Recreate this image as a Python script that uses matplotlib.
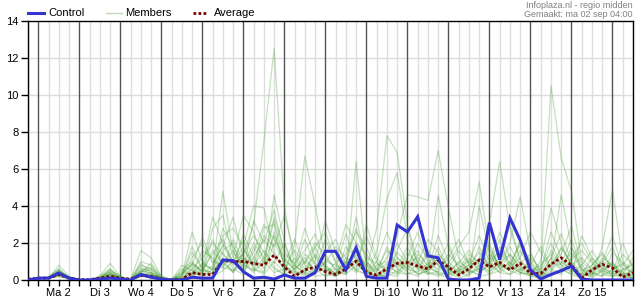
import matplotlib
matplotlib.use('Agg')
import matplotlib.pyplot as plt
from matplotlib.lines import Line2D

plt.rcParams['font.family'] = ['Liberation Sans', 'DejaVu Sans']

day_labels = ['Ma 2', 'Di 3', 'Wo 4', 'Do 5', 'Vr 6', 'Za 7', 'Zo 8', 'Ma 9',
              'Di 10', 'Wo 11', 'Do 12', 'Vr 13', 'Za 14', 'Zo 15']
y_ticks = [0, 2, 4, 6, 8, 10, 12, 14]

control = [0.0, 0.1, 0.1, 0.38, 0.1,
           0.0, 0.0, 0.05, 0.1, 0.05,
           0.0, 0.3, 0.15, 0.05, 0.0,
           0.0, 0.15, 0.1, 0.1, 1.08,
           1.05, 0.45, 0.1, 0.15, 0.05,
           0.27, 0.1, 0.1, 0.4, 1.55,
           1.55, 0.55, 1.73, 0.2, 0.1,
           0.1, 2.97, 2.6, 3.42, 1.3,
           1.2, 0.05, 0.0, 0.0, 0.1,
           3.1, 1.1, 3.35, 2.15, 0.55,
           0.05, 0.3, 0.5, 0.75, 0.05,
           0.0, 0.0, 0.0, 0.0, 0.0]

average = [0.05, 0.1, 0.1, 0.3, 0.1,
           0.02, 0.02, 0.1, 0.2, 0.1,
           0.05, 0.25, 0.2, 0.05, 0.02,
           0.02, 0.4, 0.3, 0.3, 1.05,
           1.0, 1.0, 0.9, 0.8, 1.35,
           0.7, 0.2, 0.55, 0.7, 0.45,
           0.3, 0.6, 1.02, 0.4, 0.27,
           0.6, 0.9, 0.95, 0.75, 0.6,
           1.05, 0.7, 0.27, 0.6, 1.08,
           0.7, 0.95, 0.55, 0.9, 0.35,
           0.35, 0.85, 1.2, 0.8, 0.1,
           0.55, 0.85, 0.65, 0.15, 0.4]

m01 = [0, 0.1, 0.1, 0.8, 0.2, 0, 0, 0.2, 0.9, 0.2, 0, 0.5, 0.3, 0.1, 0,
       0.2, 2.6, 1.0, 0.5, 4.8, 1.5, 0.8, 0.5, 1.2, 0.6, 0.3, 0.2, 1.0, 0.6, 0.2,
       0.4, 0.3, 6.4, 1.0, 0.3, 0.2, 0.5, 1.5, 0.8, 0.4, 0.3, 0.1, 0.5, 0.8, 1.5,
       0.8, 2.2, 0.7, 0.4, 0.3, 0.1, 0.8, 1.7, 0.9, 0.2, 0.3, 0.6, 1.0, 0.2, 0.1]
m02 = [0, 0.1, 0.2, 0.6, 0.1, 0, 0, 0.1, 0.4, 0.1, 0, 1.6, 1.2, 0.2, 0,
       0.1, 0.4, 0.3, 0.8, 1.9, 0.9, 1.4, 3.0, 7.5, 12.5, 4.0, 0.8, 0.4, 1.3, 0.7,
       0.2, 0.5, 1.1, 0.4, 0.2, 0.6, 2.0, 1.0, 0.3, 0.5, 1.2, 0.4, 0.1, 0.3, 0.8,
       0.5, 0.9, 1.4, 0.6, 0.2, 0.1, 0.3, 0.5, 1.8, 0.6, 0.2, 1.2, 0.8, 0.3, 0.1]
m03 = [0, 0.1, 0.1, 0.4, 0.1, 0, 0, 0.1, 0.3, 0.1, 0, 1.0, 0.8, 0.1, 0,
       0.3, 1.5, 0.6, 0.4, 2.4, 2.8, 1.8, 4.0, 3.9, 1.5, 0.5, 1.9, 6.7, 4.0, 1.2,
       0.6, 0.3, 0.8, 0.5, 0.1, 0.3, 0.2, 0.9, 1.6, 0.7, 0.4, 0.2, 0.6, 1.1, 0.5,
       1.8, 0.6, 0.3, 0.9, 1.4, 0.4, 0.2, 0.6, 0.3, 0.1, 0.8, 1.5, 0.6, 0.2, 0.3]
m04 = [0, 0.1, 0.1, 0.3, 0.1, 0, 0, 0.1, 0.5, 0.2, 0, 0.8, 0.6, 0.1, 0,
       0, 0.6, 1.2, 2.0, 1.4, 0.8, 2.5, 1.2, 0.6, 4.6, 2.1, 0.4, 0.3, 1.8, 2.6,
       1.0, 3.0, 2.0, 0.6, 2.8, 7.8, 6.9, 3.0, 1.0, 0.4, 0.2, 0.5, 0.9, 1.6, 0.8,
       0.3, 0.5, 1.0, 0.4, 0.2, 0.3, 1.2, 2.5, 1.0, 0.4, 0.1, 0.5, 0.9, 0.4, 0.2]
m05 = [0, 0.05, 0.1, 0.5, 0.1, 0, 0, 0.2, 0.6, 0.1, 0, 0.4, 0.9, 0.2, 0,
       0.5, 1.0, 0.4, 2.8, 3.5, 1.2, 3.5, 2.6, 1.0, 3.2, 1.1, 0.6, 2.2, 0.8, 0.4,
       0.9, 1.4, 2.6, 1.8, 0.5, 1.2, 2.4, 4.6, 4.5, 4.3, 7.0, 3.9, 1.2, 0.4, 0.6,
       1.0, 0.4, 0.8, 1.9, 0.7, 0.2, 0.5, 0.3, 1.1, 1.6, 0.9, 0.3, 0.2, 0.6, 0.4]
m06 = [0, 0.1, 0.1, 0.3, 0.1, 0, 0, 0.1, 0.2, 0.1, 0, 0.3, 0.4, 0.1, 0,
       0.1, 0.3, 1.6, 1.2, 0.6, 2.2, 1.0, 0.5, 2.4, 1.8, 3.5, 1.4, 0.6, 0.3, 1.5,
       2.2, 0.8, 0.4, 1.2, 0.9, 0.5, 1.0, 0.6, 2.0, 1.1, 0.4, 0.9, 1.8, 2.6, 5.3,
       1.6, 0.8, 0.5, 0.3, 1.2, 0.6, 2.0, 0.8, 0.4, 0.2, 0.4, 0.2, 1.5, 0.9, 0.3]
m07 = [0, 0.1, 0.1, 0.4, 0.1, 0, 0, 0.1, 0.3, 0.1, 0, 0.6, 0.5, 0.1, 0,
       0.4, 0.8, 2.3, 1.0, 0.8, 1.6, 0.6, 3.2, 2.0, 3.8, 1.4, 0.9, 1.6, 2.5, 0.8,
       0.3, 1.8, 1.2, 0.5, 0.2, 0.8, 0.4, 0.3, 0.9, 2.2, 1.5, 0.6, 0.3, 0.8, 1.0,
       3.0, 6.4, 2.8, 1.0, 0.5, 0.8, 1.4, 0.6, 0.3, 2.4, 1.2, 0.5, 0.3, 0.1, 0.2]
m08 = [0, 0.1, 0.1, 0.5, 0.2, 0, 0, 0.2, 0.4, 0.1, 0, 0.2, 0.3, 0.1, 0,
       0.8, 0.5, 0.2, 0.6, 1.0, 0.4, 1.2, 0.8, 2.8, 3.0, 0.7, 0.3, 0.5, 1.0, 3.2,
       1.5, 0.6, 0.9, 2.4, 1.0, 0.4, 1.2, 0.8, 0.3, 0.5, 0.9, 2.0, 0.6, 0.4, 1.8,
       0.6, 1.2, 3.0, 1.1, 0.5, 0.6, 10.5, 6.6, 4.8, 1.0, 0.5, 0.8, 0.4, 0.2, 0.6]
m09 = [0, 0.1, 0.1, 0.2, 0.1, 0, 0, 0.1, 0.2, 0.1, 0, 0.2, 0.2, 0, 0,
       0, 0.2, 0.6, 0.3, 1.5, 0.6, 0.3, 1.8, 0.9, 2.4, 0.9, 2.2, 0.8, 0.4, 0.6,
       0.2, 0.8, 3.4, 0.9, 0.4, 1.8, 0.6, 0.3, 0.5, 1.4, 0.8, 0.3, 0.6, 1.4, 0.9,
       0.4, 1.0, 2.0, 4.5, 1.5, 0.4, 0.8, 1.4, 2.9, 0.8, 0.3, 1.8, 4.9, 1.0, 0.5]
m10 = [0, 0.1, 0.1, 0.3, 0.1, 0, 0, 0.1, 0.3, 0.1, 0, 0.5, 0.7, 0.1, 0,
       0, 0.8, 0.4, 0.2, 0.5, 1.0, 2.2, 0.6, 0.3, 1.0, 0.4, 0.8, 2.8, 1.2, 0.5,
       0.6, 2.5, 1.0, 0.4, 1.5, 4.4, 5.8, 2.2, 0.9, 0.6, 4.6, 1.8, 0.5, 0.3, 0.6,
       1.2, 0.8, 0.6, 2.2, 0.9, 0.3, 0.9, 4.6, 1.8, 0.5, 0.8, 1.4, 0.6, 0.9, 0.3]
m11 = [0, 0.1, 0.1, 0.6, 0.1, 0, 0, 0.1, 0.4, 0.1, 0, 0.3, 0.2, 0.1, 0,
       0.2, 1.8, 0.6, 3.4, 2.0, 1.0, 0.5, 1.5, 3.0, 2.2, 1.2, 0.5, 0.2, 0.5, 1.0,
       0.8, 0.4, 1.4, 0.8, 0.3, 0.2, 1.5, 0.9, 1.2, 0.6, 2.4, 1.0, 0.4, 0.2, 4.0,
       1.4, 0.6, 0.9, 0.4, 0.3, 1.0, 3.9, 2.0, 0.7, 0.3, 0.2, 0.5, 0.3, 1.4, 0.8]
m12 = [0, 0.1, 0.1, 0.2, 0.05, 0, 0, 0.1, 0.2, 0.1, 0, 0.2, 0.3, 0.1, 0,
       0.6, 0.2, 0.4, 1.6, 0.9, 0.5, 1.4, 2.4, 1.5, 0.7, 0.3, 0.6, 1.0, 2.0, 1.4,
       0.5, 1.0, 0.6, 0.3, 0.8, 1.0, 0.7, 1.8, 0.6, 0.3, 0.5, 1.2, 2.2, 0.8, 0.4,
       0.9, 1.6, 0.7, 1.2, 2.6, 1.5, 0.6, 0.4, 1.2, 2.0, 1.0, 0.4, 0.2, 0.3, 1.2]
m13 = [0, 0.1, 0.1, 0.4, 0.1, 0, 0, 0.1, 0.6, 0.2, 0, 0.9, 0.4, 0.1, 0,
       0.1, 0.4, 0.9, 0.6, 2.8, 1.8, 0.9, 0.4, 1.0, 0.4, 0.6, 1.2, 0.4, 0.2, 0.3,
       0.2, 0.6, 2.0, 1.4, 0.6, 0.3, 0.9, 0.4, 0.2, 0.8, 1.2, 0.5, 0.3, 0.6, 0.2,
       0.3, 0.8, 1.8, 0.8, 0.4, 0.2, 1.2, 0.5, 0.8, 1.2, 0.6, 0.9, 1.8, 0.4, 0.1]
m14 = [0, 0.1, 0.1, 0.3, 0.1, 0, 0, 0.1, 0.2, 0.1, 0, 0.4, 0.2, 0.1, 0,
       0.3, 0.9, 0.5, 0.4, 1.2, 0.4, 1.6, 1.0, 0.4, 2.6, 0.8, 0.4, 1.4, 0.9, 0.4,
       0.3, 1.0, 0.5, 3.0, 1.2, 0.5, 0.3, 1.2, 2.6, 0.9, 0.6, 1.4, 0.8, 0.5, 0.3,
       0.9, 0.4, 0.3, 0.6, 0.8, 0.3, 0.6, 0.9, 2.2, 0.6, 0.4, 0.2, 0.6, 0.8, 1.6]
m15 = [0, 0.1, 0.1, 0.3, 0.1, 0, 0, 0.1, 0.3, 0.1, 0, 0.7, 0.3, 0.1, 0,
       0.2, 1.2, 2.0, 0.9, 1.8, 3.4, 1.2, 0.8, 1.6, 0.9, 2.0, 0.6, 1.2, 0.5, 0.9,
       1.8, 1.2, 0.5, 0.3, 0.6, 1.6, 0.9, 0.5, 1.4, 0.8, 0.3, 0.6, 1.6, 0.9, 2.4,
       1.0, 2.6, 1.2, 0.5, 0.8, 1.8, 0.7, 1.0, 0.5, 0.3, 1.2, 0.6, 0.4, 2.0, 0.6]
m16 = [0, 0.1, 0.1, 0.5, 0.1, 0, 0, 0.1, 0.5, 0.1, 0, 0.4, 0.6, 0.2, 0,
       0.1, 0.6, 0.3, 2.2, 0.7, 0.5, 0.8, 2.0, 1.2, 3.4, 1.6, 0.8, 0.3, 0.6, 2.2,
       0.9, 0.4, 1.8, 0.6, 0.2, 0.4, 1.6, 2.8, 0.8, 0.3, 1.8, 0.6, 0.2, 1.0, 0.6,
       2.0, 0.6, 1.4, 0.7, 0.3, 0.5, 2.6, 1.2, 0.4, 0.8, 1.6, 0.7, 0.3, 0.5, 0.9]
m17 = [0, 0.1, 0.1, 0.2, 0.1, 0, 0, 0.1, 0.1, 0, 0, 0.2, 0.1, 0, 0,
       0.4, 0.3, 0.8, 0.6, 1.6, 2.0, 0.4, 1.2, 2.2, 1.4, 0.6, 1.6, 0.9, 1.8, 0.6,
       0.4, 0.9, 2.8, 1.0, 0.5, 0.9, 0.4, 1.0, 0.6, 1.6, 0.8, 0.3, 1.0, 0.6, 1.2,
       0.6, 1.8, 0.9, 2.0, 1.0, 0.4, 1.6, 0.8, 1.5, 0.5, 0.3, 1.0, 2.4, 0.6, 0.8]
m18 = [0, 0.1, 0.1, 0.4, 0.1, 0, 0, 0.1, 0.3, 0.1, 0, 0.5, 0.4, 0.1, 0,
       0.2, 0.9, 0.5, 1.4, 2.2, 0.9, 1.8, 0.6, 0.4, 2.0, 0.9, 0.2, 0.6, 1.4, 0.8,
       0.3, 1.2, 0.9, 0.4, 1.0, 2.6, 1.2, 0.6, 0.4, 0.9, 1.4, 0.8, 0.4, 1.2, 0.7,
       1.4, 0.9, 0.5, 1.6, 0.6, 0.2, 0.4, 1.8, 0.9, 0.3, 0.6, 1.0, 0.8, 0.3, 0.5]
members = [m01, m02, m03, m04, m05, m06, m07, m08, m09, m10, m11, m12, m13,
           m14, m15, m16, m17, m18]

steps = list(range(len(control)))
label_pos = [3 + 4 * i for i in range(len(day_labels))]

W, H = 635, 300
fig = plt.figure(figsize=(W / 100, H / 100), dpi=100)
ax = fig.add_axes([28 / W, 20 / H, 605 / W, 259 / H])
ax.set_xlim(0, len(steps) - 1)
ax.set_ylim(0, 14)

for s in steps:
    if (s - 1) % 4 == 0:
        ax.axvline(s, color='#555555', lw=1.0, zorder=1)
    else:
        ax.axvline(s, color='#dddddd', lw=1.0, zorder=0)
for y in y_ticks[1:-1]:
    ax.axhline(y, color='#dddddd', lw=1.0, zorder=0)

for m in members:
    ax.plot(steps, m, color='#3f9a2c', alpha=0.3, lw=0.9, zorder=2)
ax.plot(steps, average, color='#7a0000', lw=2.0, linestyle=(0, (1, 0.8)),
        dash_capstyle='butt', zorder=3)
ax.plot(steps, control, color='#3434d0', lw=2.2, zorder=4, solid_joinstyle='miter')

ax.set_xticks(label_pos)
ax.set_xticklabels(day_labels)
ax.set_xticks(steps, minor=True)
ax.tick_params(axis='x', which='both', direction='out', length=4, width=1,
               color='black', labelsize=8, pad=2)
ax.set_yticks(y_ticks)
ax.set_yticklabels([str(v) for v in y_ticks])
ax.tick_params(axis='y', direction='out', length=5, width=1, labelsize=8, pad=2)
for sp in ax.spines.values():
    sp.set_color('black')
    sp.set_linewidth(1.0)

# legend
ly = 1 - 13 / H
fig.add_artist(Line2D([28 / W, 44 / W], [ly, ly], color='#3434d0', lw=2.2))
fig.text(48 / W, ly, 'Control', fontsize=8, va='center', ha='left')
fig.add_artist(Line2D([106 / W, 122 / W], [ly, ly], color='#3f9a2c', alpha=0.35, lw=1.0))
fig.text(125 / W, ly, 'Members', fontsize=8, va='center', ha='left')
fig.add_artist(Line2D([193 / W, 207 / W], [ly, ly], color='#7a0000', lw=2.0,
                      linestyle=(0, (1, 0.8)), dash_capstyle='butt'))
fig.text(214 / W, ly, 'Average', fontsize=8, va='center', ha='left')

fig.text(633 / W, 1 - 1 / H, 'Infoplaza.nl - regio midden', fontsize=6.5,
         color='#808080', ha='right', va='top')
fig.text(633 / W, 1 - 10 / H, 'Gemaakt: ma 02 sep 04:00', fontsize=6.5,
         color='#808080', ha='right', va='top')

fig.savefig('out.png', dpi=100)
